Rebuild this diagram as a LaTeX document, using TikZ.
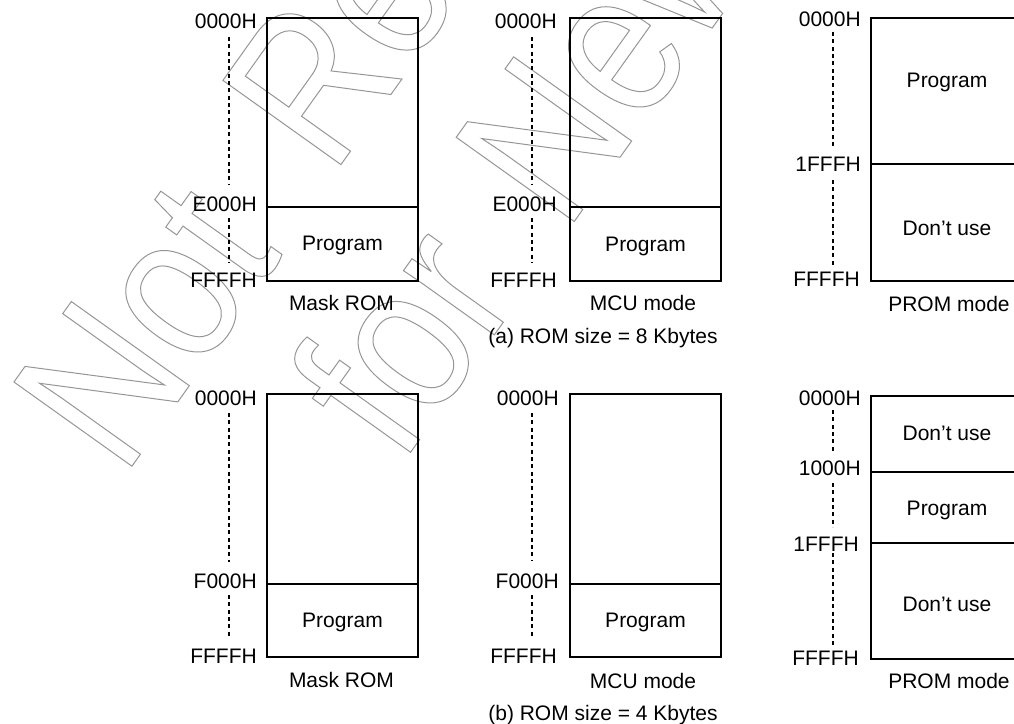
\documentclass[tikz,border=0pt]{standalone}
\usepackage{fontspec}
\setmainfont{Liberation Sans}
\newfontfamily\wmfont[FakeStretch=0.84]{Liberation Sans}
\definecolor{wmgray}{RGB}{150,150,150}
\newcommand\outlinetext[1]{\special{pdf:literal direct 1 Tr 0.75 w}#1\special{pdf:literal direct 0 Tr}}
\tikzset{
  wm/.style={rotate=54.5, anchor=base west, inner sep=0pt, outer sep=0pt, text=wmgray,
             font=\wmfont\fontsize{158}{158}\selectfont},
  membox/.style={draw, line width=1.5pt},
  guide/.style={line width=1.4pt, dash pattern=on 3pt off 2.5pt},
  addr/.style={anchor=base east, inner sep=0pt, font=\fontsize{15.75}{18}\selectfont},
  lbl/.style={anchor=base, inner sep=0pt, font=\fontsize{15.75}{18}\selectfont}
}
\begin{document}
\begin{tikzpicture}[x=0.75pt,y=-0.75pt]
\useasboundingbox (0,0) rectangle (1014,724);
\clip (0,0) rectangle (1014,724);

% watermark
\node[wm] (wmA) at (123.5,478) {\outlinetext{Not}};
\node[wm] (wmB) at (332.5,176.4) {\outlinetext{Recommended}};
\node[wm] (wmC) at (401.5,465) {\outlinetext{for}};
\node[wm] (wmD) at (565.8,233.3) {\outlinetext{New Design}};

% ---------- (a) ROM size = 8 Kbytes ----------
% Mask ROM
\draw[membox] (267,18.3) rectangle (418,280.7);
\draw[membox] (267,207.3) -- (418,207.3);
\node[addr] (a1t) at (257,28.5) {0000H};
\node[addr] (a1m) at (257,211.5) {E000H};
\node[addr] (a1b) at (257,287) {FFFFH};
\draw[guide] (229,37) -- (229,185);
\draw[guide] (229,218) -- (229,263);
\node[lbl] (a1p) at (342.5,250.7) {Program};
\node[lbl] (a1c) at (341.5,310.7) {Mask ROM};

% MCU mode
\draw[membox] (570,18.3) rectangle (721,280.7);
\draw[membox] (570,207.3) -- (721,207.3);
\node[addr] (a2t) at (557,28.5) {0000H};
\node[addr] (a2m) at (557,211) {E000H};
\node[addr] (a2b) at (557,287) {FFFFH};
\draw[guide] (532,37) -- (532,185);
\draw[guide] (532,218) -- (532,263);
\node[lbl] (a2p) at (645.5,251) {Program};
\node[lbl] (a2c) at (643,310.7) {MCU mode};

% PROM mode
\draw[membox] (1023,18.3) -- (871,18.3) -- (871,280.7) -- (1023,280.7) -- cycle;
\draw[membox] (871,164.3) -- (1023,164.3);
\node[addr] (a3t) at (861,27) {0000H};
\node[addr] (a3m) at (861,171.7) {1FFFH};
\node[addr] (a3b) at (860,286.7) {FFFFH};
\draw[guide] (833.3,32) -- (833.3,147);
\draw[guide] (833.3,180) -- (833.3,267);
\node[lbl] (a3p) at (947,87.3) {Program};
\node[lbl] (a3d) at (947,235) {Don’t use};
\node[lbl] (a3c) at (949,311) {PROM mode};

\node[lbl] (capa) at (603,343) {(a) ROM size = 8 Kbytes};

% ---------- (b) ROM size = 4 Kbytes ----------
% Mask ROM
\draw[membox] (267,394.3) rectangle (418,656.7);
\draw[membox] (267,583.7) -- (418,583.7);
\node[addr] (b1t) at (257,405) {0000H};
\node[addr] (b1m) at (257,588.3) {F000H};
\node[addr] (b1b) at (257,663.3) {FFFFH};
\draw[guide] (229,413) -- (229,562);
\draw[guide] (229,595) -- (229,638);
\node[lbl] (b1p) at (342.5,627.7) {Program};
\node[lbl] (b1c) at (341.5,687.7) {Mask ROM};

% MCU mode
\draw[membox] (570,394.3) rectangle (721,656.7);
\draw[membox] (570,583.7) -- (721,583.7);
\node[addr] (b2t) at (559,405) {0000H};
\node[addr] (b2m) at (559,588.3) {F000H};
\node[addr] (b2b) at (557,663.3) {FFFFH};
\draw[guide] (532,413) -- (532,560);
\draw[guide] (532,595) -- (532,638);
\node[lbl] (b2p) at (645.5,627.7) {Program};
\node[lbl] (b2c) at (643,688) {MCU mode};

% PROM mode
\draw[membox] (1023,396) -- (871,396) -- (871,659.3) -- (1023,659.3) -- cycle;
\draw[membox] (871,472) -- (1023,472);
\draw[membox] (871,543.3) -- (1023,543.3);
\node[addr] (b3t) at (861,405) {0000H};
\node[addr] (b3m) at (861,475) {1000H};
\node[addr] (b3n) at (859,551.7) {1FFFH};
\node[addr] (b3b) at (859,665) {FFFFH};
\draw[guide] (833.3,410) -- (833.3,452);
\draw[guide] (833.3,483) -- (833.3,527);
\draw[guide] (833.3,553) -- (833.3,645);
\node[lbl] (b3d1) at (947,440) {Don’t use};
\node[lbl] (b3p) at (947,515) {Program};
\node[lbl] (b3d2) at (947,611.7) {Don’t use};
\node[lbl] (b3c) at (949,688) {PROM mode};

\node[lbl] (capb) at (603,720) {(b) ROM size = 4 Kbytes};
\end{tikzpicture}
\end{document}
